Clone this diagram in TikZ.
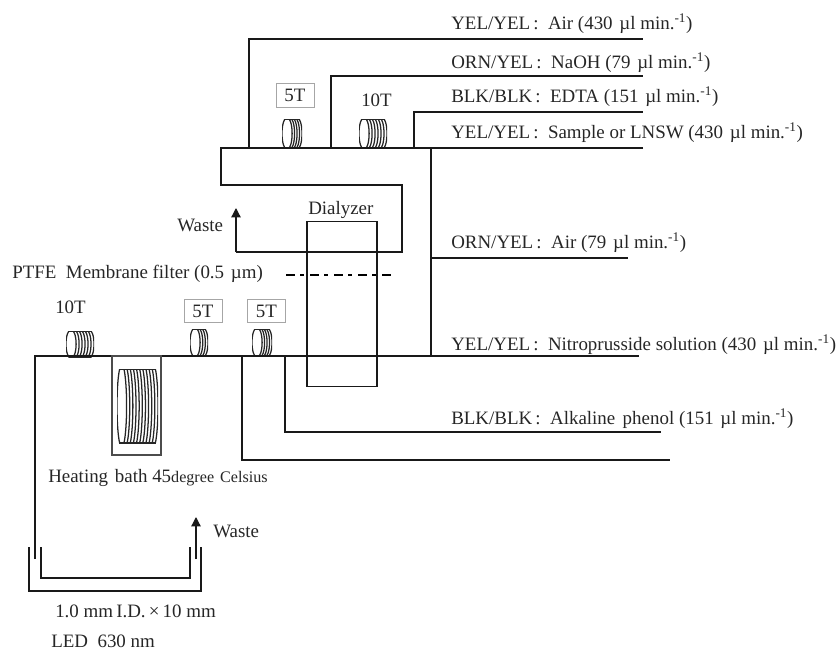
\documentclass[tikz,border=0pt]{standalone}
\usepackage{fontspec}
\setmainfont{Liberation Serif}
\usetikzlibrary{arrows.meta}
\newcommand{\mul}{\ \hspace{1.5pt}µl}
\tikzset{
  pipe/.style={draw=black!90,line width=.95pt,line join=miter},
  flowarrow/.style={pipe,-{Triangle[length=7pt,width=7pt]}},
  lab/.style={anchor=base west,inner sep=0pt,text=black!85,font=\fontsize{14.2pt}{16pt}\selectfont},
  turnsbox/.style={draw=black!35,line width=.6pt,inner sep=0pt,minimum width=28.5pt,minimum height=17.5pt,text=black!85,font=\fontsize{14.2pt}{16pt}\selectfont},
  vessel/.style={draw=black!90,line width=.95pt,inner sep=0pt},
  bathbox/.style={draw=black!70,line width=1.1pt,inner sep=0pt},
  turn/.style={draw=black!85,line width=.95pt,fill=white},
  membrane/.style={draw=black,line width=1.6pt,dash pattern=on 6.5pt off 4pt on 2.8pt off 4.7pt}
}
% coil: x1,y1,x2,y2,steps,radius(pt)
\newcommand{\coilat}[6]{%
  \begin{scope}
    \clip (#1,#2) rectangle (#3,#4);
    \pgfmathsetmacro{\cstep}{(#3-#1-2*#6/0.75)/#5}
    \pgfmathsetmacro{\cmid}{(#2+#4)/2}
    \pgfmathsetmacro{\cry}{(#4-#2)*0.75*0.56}
    \foreach \i in {0,...,#5}{
      \pgfmathsetmacro{\cx}{#3-#6/0.75-\i*\cstep}
      \draw[turn] (\cx,\cmid) ellipse [x radius=#6 pt,y radius=\cry pt];
    }
    \draw[draw=black!85,line width=1.6pt] (#1+3,#2) -- (#3-3,#2) (#1+3,#4) -- (#3-3,#4);
  \end{scope}}
\begin{document}
\begin{tikzpicture}[x=0.75pt,y=-0.75pt]
\useasboundingbox (0,0) rectangle (840,651);

% free ends and junctions
\coordinate (airJ) at (249,148);   \coordinate (airE) at (643,39);
\coordinate (naohJ) at (331,148);  \coordinate (naohE) at (643,76);
\coordinate (edtaJ) at (414,148);  \coordinate (edtaE) at (643,112);
\coordinate (samS) at (221,148);   \coordinate (samE) at (643,148);
\coordinate (turnA) at (221,185);  \coordinate (turnB) at (402,185);
\coordinate (turnC) at (402,252);  \coordinate (wasteTurn) at (236,252);
\coordinate (wasteTip) at (236,208);
\coordinate (mixTop) at (431,148); \coordinate (mixBot) at (431,356);
\coordinate (airJ2) at (431,258);  \coordinate (airE2) at (628,258);
\coordinate (mainS) at (35,356);   \coordinate (mainE) at (639,356);
\coordinate (phJ) at (285,356);    \coordinate (phE) at (661,432);
\coordinate (lastJ) at (242,356);  \coordinate (lastE) at (670,460);
\coordinate (memA) at (286,275);   \coordinate (memB) at (391,275);
\coordinate (cellIn) at (35,559);  \coordinate (cellOut) at (196,559);
\coordinate (cellTip) at (196,517);
\coordinate (outTL) at (29,547);   \coordinate (outBR) at (201,591);
\coordinate (inTL) at (41,547);    \coordinate (inBR) at (190,578);

% coils
\coilat{282}{119}{302}{148}{4}{3.8}
\coilat{359}{119}{387}{148}{6}{3.8}
\coilat{66}{331}{94}{357}{6}{3.8}
\coilat{190}{329}{208}{356}{3}{3.8}
\coilat{252}{329}{272}{356}{4}{3.8}
\coilat{117}{369}{158}{443}{10}{3.6}

% connectors
\draw[pipe] (airJ) |- (airE);
\draw[pipe] (naohJ) |- (naohE);
\draw[pipe] (edtaJ) |- (edtaE);
\draw[pipe] (samE) -- (samS) -- (turnA) -- (turnB) -- (turnC) -- (wasteTurn);
\draw[flowarrow] (wasteTurn) -- (wasteTip);
\draw[pipe] (mixTop) -- (mixBot);
\draw[pipe] (airJ2) -- (airE2);
\draw[pipe] (cellIn) -- (mainS) -- (mainE);
\draw[pipe] (phJ) |- (phE);
\draw[pipe] (lastJ) |- (lastE);
\draw[membrane] (memA) -- (memB);
\draw[flowarrow] (cellOut) -- (cellTip);

% dialyzer and bath
\node[vessel,minimum width=52.5pt,minimum height=124pt] (dialyzer) at (342,304) {};
\node[bathbox,minimum width=36.75pt,minimum height=74.25pt] (bath) at (136.5,405.5) {};

% flow cell
\draw[pipe] (outTL) -- (outTL |- outBR) -- (outBR) -- (outBR |- outTL);
\draw[pipe] (inTL) -- (inTL |- inBR) -- (inBR) -- (inBR |- inTL);

% turn labels
\node[turnsbox] (t5a) at (295,95.5) {5T};
\node[turnsbox] (t5b) at (203,311) {5T};
\node[turnsbox] (t5c) at (266.5,311) {5T};
\node[lab] (t10a) at (361,106) {10T};
\node[lab] (t10b) at (55,313) {10T};

% texts
\node[lab] (l1) at (451,29) {YEL/YEL\,:\ \ Air (430\mul{} min.\textsuperscript{-1})};
\node[lab] (l2) at (451,68) {ORN/YEL\,:\ \ NaOH (79\mul{} min.\textsuperscript{-1})};
\node[lab] (l3) at (451,102) {BLK/BLK\,:\ \ EDTA (151\mul{} min.\textsuperscript{-1})};
\node[lab] (l4) at (451,138) {YEL/YEL\,:\ \ Sample or LNSW (430\mul{} min.\textsuperscript{-1})};
\node[lab] (l5) at (451,248) {ORN/YEL\,:\ \ Air (79\mul{} min.\textsuperscript{-1})};
\node[lab] (l6) at (451,350) {YEL/YEL\,:\ \ Nitroprusside solution (430\mul{} min.\textsuperscript{-1})};
\node[lab] (l7) at (451,424) {BLK/BLK\,:\ \ Alkaline\hspace{2pt} phenol (151\mul{} min.\textsuperscript{-1})};
\node[lab] (dlab) at (308,214) {Dialyzer};
\node[lab] (w1) at (177,231) {Waste};
\node[lab] (ptfe) at (12,278) {PTFE\ \ Membrane filter (0.5\ \hspace{1.5pt}µm)};
\node[lab] (heat) at (48,482) {Heating\hspace{1.5pt} bath 45{\fontsize{12.1pt}{14pt}\selectfont degree\hspace{1.5pt} Celsius}};
\node[lab] (w2) at (213,537) {Waste};
\node[lab] (cell) at (55,617) {1.0 mm\,I.D.\,×\,10 mm};
\node[lab] (led) at (51,647) {LED\ \ 630 nm};
\end{tikzpicture}
\end{document}
